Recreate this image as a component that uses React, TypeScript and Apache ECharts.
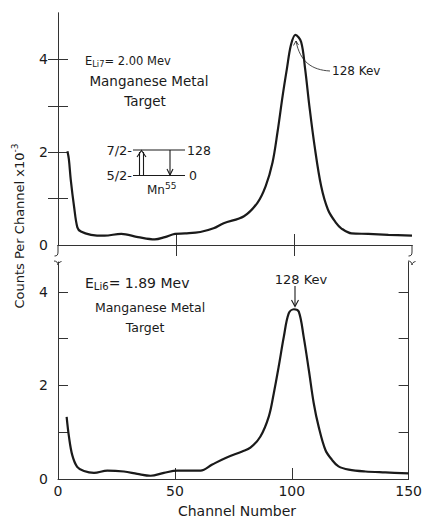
import React, { useEffect, useRef } from "react";
import * as echarts from "echarts";

// Upper spectrum: E(Li7) = 2.00 MeV
const topChannels = [4, 4.6, 5.4, 6.8, 8.2, 9.7, 14, 19.7, 26.8, 33.9, 41, 45.3, 49.6, 53.8, 60.3, 65.9, 70.2, 78.8, 84.5, 88, 90.9, 93, 95.2, 97, 98.7, 100.6, 103, 104.7, 106.5, 108.7, 111.5, 114.4, 117.9, 120, 124.4, 131.5, 140, 150];
const topCounts = [2.02, 1.85, 1.41, 0.83, 0.38, 0.29, 0.22, 0.2, 0.24, 0.17, 0.12, 0.17, 0.24, 0.25, 0.28, 0.36, 0.47, 0.62, 0.91, 1.27, 1.78, 2.43, 3.22, 3.8, 4.31, 4.53, 4.38, 3.8, 3.0, 2.14, 1.27, 0.76, 0.47, 0.36, 0.25, 0.24, 0.22, 0.2];

// Lower spectrum: E(Li6) = 1.89 MeV
const bottomChannels = [3.7, 4.7, 6.1, 8.2, 11.1, 15.4, 21.1, 28.2, 33.9, 39.6, 45.3, 51, 54.6, 61, 66, 71.7, 78.8, 82.3, 86.6, 90.2, 92.3, 94.4, 96.6, 98.7, 100.9, 103, 105.1, 107.3, 109.4, 111.5, 114.4, 117.2, 120, 124.4, 131.5, 140, 150];
const bottomCounts = [1.33, 0.9, 0.51, 0.26, 0.17, 0.13, 0.18, 0.16, 0.11, 0.07, 0.13, 0.18, 0.18, 0.18, 0.31, 0.45, 0.59, 0.67, 0.91, 1.34, 1.83, 2.4, 3.04, 3.54, 3.63, 3.58, 3.04, 2.33, 1.62, 1.12, 0.62, 0.41, 0.27, 0.2, 0.16, 0.14, 0.12];

const xTickValues = [50, 100];
const xLabelValues = [0, 50, 100, 150];
const yTickValues = [1, 2, 3, 4];
const yLabelValues = [0, 2, 4];

const FONT = "DejaVu Sans";
const INK = "#1a1a1a";
const FRAME = "#333";

export default function App() {
  const ref = useRef<HTMLDivElement>(null);
  useEffect(() => {
    if (!ref.current) return;
    const chart = echarts.init(ref.current, null, { renderer: "svg" });
    const topData = topChannels.map((c, i) => [c, topCounts[i]]);
    const bottomData = bottomChannels.map((c, i) => [c, bottomCounts[i]]);

    const axisLine = { show: true, lineStyle: { color: FRAME, width: 1 } };
    const tickStyle = { color: FRAME, width: 1 };
    const mkX = (gridIndex: number, position: string, showLabels: boolean, showLine = true) => ({
      type: "value",
      gridIndex,
      position,
      min: 0,
      max: 150,
      axisLine: { ...axisLine, show: showLine },
      splitLine: { show: false },
      axisTick: { show: true, inside: true, length: 11, customValues: xTickValues, lineStyle: tickStyle },
      axisLabel: {
        show: showLabels,
        customValues: xLabelValues,
        fontFamily: FONT,
        fontSize: 14,
        color: INK,
        margin: 5,
      },
    });
    const mkY = (gridIndex: number, position: string, max: number, showLabels: boolean) => ({
      type: "value",
      gridIndex,
      position,
      min: 0,
      max,
      axisLine,
      splitLine: { show: false },
      axisTick: { show: true, inside: true, length: 10, customValues: yTickValues, lineStyle: tickStyle },
      axisLabel: {
        show: showLabels,
        customValues: yLabelValues,
        fontFamily: FONT,
        fontSize: 14,
        color: INK,
        margin: 10,
      },
    });

    const txt = (x: number, y: number, text: string, fontSize: number, align = "left", extra: any = {}) => ({
      type: "text",
      x,
      y,
      silent: true,
      style: {
        text,
        fontFamily: FONT,
        fontSize,
        fill: INK,
        align,
        verticalAlign: "middle",
        ...extra,
      },
    });
    const ln = (x1: number, y1: number, x2: number, y2: number, w = 1.1) => ({
      type: "line",
      silent: true,
      shape: { x1, y1, x2, y2 },
      style: { stroke: INK, lineWidth: w },
    });
    const pl = (points: number[][], w = 1.1) => ({
      type: "polyline",
      silent: true,
      shape: { points },
      style: { stroke: INK, lineWidth: w, fill: null },
    });
    const bz = (x1: number, y1: number, cx1: number, cy1: number, cx2: number, cy2: number, x2: number, y2: number, w = 1) => ({
      type: "bezierCurve",
      silent: true,
      shape: { x1, y1, cpx1: cx1, cpy1: cy1, cpx2: cx2, cpy2: cy2, x2, y2 },
      style: { stroke: FRAME, lineWidth: w, fill: null },
    });

    const eRich = (size: number) => ({
      a: { fontFamily: FONT, fontSize: size, fill: INK, color: INK },
      s: { fontFamily: FONT, fontSize: size * 0.72, fill: INK, color: INK, padding: [size * 0.55, 0, 0, 0] },
    });

    const graphic: any[] = [
      // y axis name
      {
        type: "text",
        x: 19,
        y: 226,
        rotation: Math.PI / 2,
        silent: true,
        style: {
          text: "{a|Counts Per Channel x10}{s|-3}",
          align: "center",
          verticalAlign: "middle",
          rich: {
            a: { fontFamily: FONT, fontSize: 13, fill: INK, color: INK },
            s: { fontFamily: FONT, fontSize: 9, fill: INK, color: INK, padding: [0, 0, 9, 0] },
          },
        },
      },
      // upper panel texts
      {
        type: "text",
        x: 85,
        y: 61,
        silent: true,
        style: { text: "{a|E}{s|Li7}{a|= 2.00 Mev}", verticalAlign: "middle", rich: eRich(11.5) },
      },
      txt(149, 81, "Manganese Metal", 13.5, "center"),
      txt(145, 101, "Target", 13.5, "center"),
      // level scheme
      txt(132, 150, "7/2-", 13, "right"),
      txt(132, 175.5, "5/2-", 13, "right"),
      txt(187, 150, "128", 12.5, "left"),
      txt(189, 175.5, "0", 12.5, "left"),
      {
        type: "text",
        x: 147,
        y: 190,
        silent: true,
        style: {
          text: "{a|Mn}{s|55}",
          verticalAlign: "middle",
          rich: {
            a: { fontFamily: FONT, fontSize: 12, fill: INK, color: INK },
            s: { fontFamily: FONT, fontSize: 9, fill: INK, color: INK, padding: [0, 0, 8, 0] },
          },
        },
      },
      ln(133, 150, 185, 150),
      ln(133, 175.5, 185, 175.5),
      ln(139.5, 175.5, 139.5, 152),
      ln(143.5, 175.5, 143.5, 152),
      pl([[137, 157], [141.5, 150.5], [146, 157]]),
      ln(170, 150, 170, 175),
      pl([[167, 169], [170, 175], [173, 169]]),
      // upper 128 kev leader
      txt(332, 71, "128 Kev", 12, "left"),
      {
        type: "bezierCurve",
        silent: true,
        shape: { x1: 330, y1: 71, cpx1: 312, cpy1: 70, cpx2: 300, cpy2: 62, x2: 296, y2: 41 },
        style: { stroke: INK, lineWidth: 0.8, fill: null },
      },
      pl([[293.5, 45.5], [296, 41], [298.5, 45]], 0.8),
      // lower panel texts
      {
        type: "text",
        x: 85,
        y: 283,
        silent: true,
        style: { text: "{a|E}{s|Li6}{a|= 1.89 Mev}", verticalAlign: "middle", rich: eRich(14) },
      },
      txt(150, 307, "Manganese Metal", 12.5, "center"),
      txt(145, 327, "Target", 12.5, "center"),
      txt(301, 279, "128 Kev", 13, "center"),
      ln(295, 286, 295, 306),
      pl([[291.5, 300], [295, 306.5], [298.5, 300]]),
      // axis breaks (left)
      { type: "line", silent: true, shape: { x1: 58, y1: 245, x2: 58, y2: 252 }, style: { stroke: FRAME, lineWidth: 1 } },
      bz(58, 252, 58, 255, 57, 256, 54.5, 256),
      bz(54, 261, 56.5, 261, 58, 262.5, 58, 265),
      bz(58, 265, 58, 263, 59.5, 262, 61.5, 261.5),
      // axis breaks (right)
      { type: "line", silent: true, shape: { x1: 412, y1: 245, x2: 412, y2: 252 }, style: { stroke: FRAME, lineWidth: 1 } },
      bz(412, 252, 412, 255, 411, 256, 408.5, 256),
      bz(408, 261, 410.5, 261, 412, 262.5, 412, 265),
      bz(412, 265, 412, 263, 413.5, 262, 415.5, 261.5),
      // x axis name
      txt(237, 511, "Channel Number", 14, "center"),
    ];

    chart.setOption({
      animation: false,
      backgroundColor: "#ffffff",
      grid: [
        { left: 58, top: 13, width: 354, height: 232 },
        { left: 58, top: 262, width: 354, height: 217 },
      ],
      xAxis: [
        mkX(0, "bottom", false),
        mkX(0, "top", false),
        mkX(1, "bottom", true),
      ],
      yAxis: [
        mkY(0, "left", 5, true),
        mkY(0, "right", 5, false),
        mkY(1, "left", 4.64, true),
        mkY(1, "right", 4.64, false),
      ],
      series: [
        {
          type: "line",
          xAxisIndex: 0,
          yAxisIndex: 0,
          data: topData,
          smooth: 0.35,
          showSymbol: false,
          symbol: "none",
          lineStyle: { color: INK, width: 2.2 },
          silent: true,
        },
        {
          type: "line",
          xAxisIndex: 2,
          yAxisIndex: 2,
          data: bottomData,
          smooth: 0.35,
          showSymbol: false,
          symbol: "none",
          lineStyle: { color: INK, width: 2.2 },
          silent: true,
        },
      ],
      graphic,
    });
    return () => chart.dispose();
  }, []);
  return (
    <div
      ref={ref}
      style={{ position: "fixed", left: 0, top: 0, width: 425, height: 518, background: "#fff" }}
    />
  );
}
